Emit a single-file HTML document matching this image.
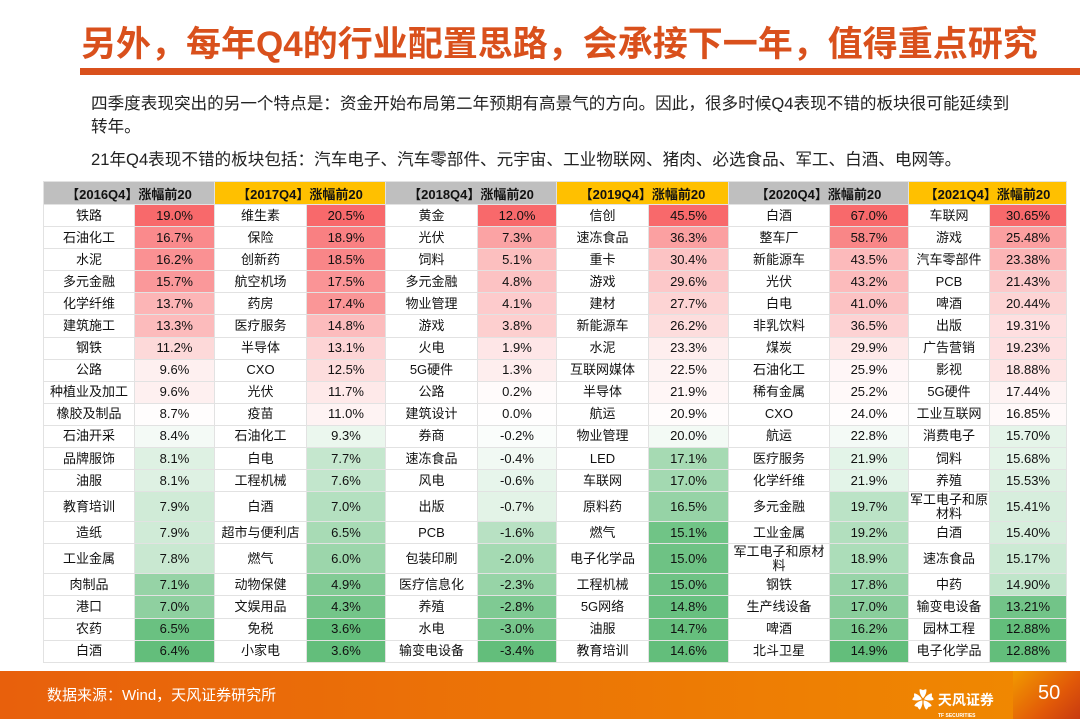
<!DOCTYPE html>
<html><head><meta charset="utf-8">
<style>
*{margin:0;padding:0;box-sizing:border-box}
body{width:1080px;height:719px;overflow:hidden;background:#fff;font-family:"Liberation Sans","Noto Sans CJK SC",sans-serif;position:relative}
.title{position:absolute;left:81px;top:26px;font-size:35px;line-height:38px;font-weight:bold;color:#d9501c;white-space:nowrap}
.bar{position:absolute;left:80px;top:68px;width:1000px;height:7px;background:#d9501c}
.p{position:absolute;left:91px;font-size:16.6px;color:#222;white-space:nowrap}
table{position:absolute;left:43px;top:181px;border-collapse:collapse;table-layout:fixed;font-size:13px;color:#111}
td{border:1px solid #e2e2e2;text-align:center;height:22.1px;line-height:14px;padding:0;overflow:hidden}
th{height:23px;font-size:13px;font-weight:bold;border:1px solid #e2e2e2;white-space:nowrap}
th.g{background:#bfbfbf}th.y{background:#ffc000}
tr.t td{height:30px}
.foot{position:absolute;left:0;top:671px;width:1080px;height:48px;background:linear-gradient(90deg,#e8600c,#f08a00)}
.src{position:absolute;left:47px;top:684px;color:#fff;font-size:15px}
.num{position:absolute;left:1013px;top:671px;width:67px;height:48px;background:linear-gradient(135deg,#f29a00,#e25a08 60%,#c83a10)}
.num span{position:absolute;left:25px;top:11px;color:#fff;font-size:20px}
.logo{position:absolute;left:912px;top:683px;color:#fff;font-size:14px;font-weight:bold}
.logo small{display:block;font-size:5px;margin-left:26px;margin-top:-2px}
</style></head><body>
<div class="title">另外，每年Q4的行业配置思路，会承接下一年，值得重点研究</div>
<div class="bar"></div>
<div class="p" style="top:90px">四季度表现突出的另一个特点是：资金开始布局第二年预期有高景气的方向。因此，很多时候Q4表现不错的板块很可能延续到</div>
<div class="p" style="top:113px">转年。</div>
<div class="p" style="top:146px">21年Q4表现不错的板块包括：汽车电子、汽车零部件、元宇宙、工业物联网、猪肉、必选食品、军工、白酒、电网等。</div>
<table id="t">
<colgroup><col style="width:91px"><col style="width:80px"><col style="width:92px"><col style="width:79px"><col style="width:92px"><col style="width:79px"><col style="width:92px"><col style="width:80px"><col style="width:101px"><col style="width:79px"><col style="width:81px"><col style="width:77px"></colgroup>
<tr><th colspan="2" class="g">【2016Q4】涨幅前20</th><th colspan="2" class="y">【2017Q4】涨幅前20</th><th colspan="2" class="g">【2018Q4】涨幅前20</th><th colspan="2" class="y">【2019Q4】涨幅前20</th><th colspan="2" class="g">【2020Q4】涨幅前20</th><th colspan="2" class="y">【2021Q4】涨幅前20</th></tr>
<tr><td>铁路</td><td>19.0%</td><td>维生素</td><td>20.5%</td><td>黄金</td><td>12.0%</td><td>信创</td><td>45.5%</td><td>白酒</td><td>67.0%</td><td>车联网</td><td>30.65%</td></tr>
<tr><td>石油化工</td><td>16.7%</td><td>保险</td><td>18.9%</td><td>光伏</td><td>7.3%</td><td>速冻食品</td><td>36.3%</td><td>整车厂</td><td>58.7%</td><td>游戏</td><td>25.48%</td></tr>
<tr><td>水泥</td><td>16.2%</td><td>创新药</td><td>18.5%</td><td>饲料</td><td>5.1%</td><td>重卡</td><td>30.4%</td><td>新能源车</td><td>43.5%</td><td>汽车零部件</td><td>23.38%</td></tr>
<tr><td>多元金融</td><td>15.7%</td><td>航空机场</td><td>17.5%</td><td>多元金融</td><td>4.8%</td><td>游戏</td><td>29.6%</td><td>光伏</td><td>43.2%</td><td>PCB</td><td>21.43%</td></tr>
<tr><td>化学纤维</td><td>13.7%</td><td>药房</td><td>17.4%</td><td>物业管理</td><td>4.1%</td><td>建材</td><td>27.7%</td><td>白电</td><td>41.0%</td><td>啤酒</td><td>20.44%</td></tr>
<tr><td>建筑施工</td><td>13.3%</td><td>医疗服务</td><td>14.8%</td><td>游戏</td><td>3.8%</td><td>新能源车</td><td>26.2%</td><td>非乳饮料</td><td>36.5%</td><td>出版</td><td>19.31%</td></tr>
<tr><td>钢铁</td><td>11.2%</td><td>半导体</td><td>13.1%</td><td>火电</td><td>1.9%</td><td>水泥</td><td>23.3%</td><td>煤炭</td><td>29.9%</td><td>广告营销</td><td>19.23%</td></tr>
<tr><td>公路</td><td>9.6%</td><td>CXO</td><td>12.5%</td><td>5G硬件</td><td>1.3%</td><td>互联网媒体</td><td>22.5%</td><td>石油化工</td><td>25.9%</td><td>影视</td><td>18.88%</td></tr>
<tr><td>种植业及加工</td><td>9.6%</td><td>光伏</td><td>11.7%</td><td>公路</td><td>0.2%</td><td>半导体</td><td>21.9%</td><td>稀有金属</td><td>25.2%</td><td>5G硬件</td><td>17.44%</td></tr>
<tr><td>橡胶及制品</td><td>8.7%</td><td>疫苗</td><td>11.0%</td><td>建筑设计</td><td>0.0%</td><td>航运</td><td>20.9%</td><td>CXO</td><td>24.0%</td><td>工业互联网</td><td>16.85%</td></tr>
<tr><td>石油开采</td><td>8.4%</td><td>石油化工</td><td>9.3%</td><td>券商</td><td>-0.2%</td><td>物业管理</td><td>20.0%</td><td>航运</td><td>22.8%</td><td>消费电子</td><td>15.70%</td></tr>
<tr><td>品牌服饰</td><td>8.1%</td><td>白电</td><td>7.7%</td><td>速冻食品</td><td>-0.4%</td><td>LED</td><td>17.1%</td><td>医疗服务</td><td>21.9%</td><td>饲料</td><td>15.68%</td></tr>
<tr><td>油服</td><td>8.1%</td><td>工程机械</td><td>7.6%</td><td>风电</td><td>-0.6%</td><td>车联网</td><td>17.0%</td><td>化学纤维</td><td>21.9%</td><td>养殖</td><td>15.53%</td></tr>
<tr class="t"><td>教育培训</td><td>7.9%</td><td>白酒</td><td>7.0%</td><td>出版</td><td>-0.7%</td><td>原料药</td><td>16.5%</td><td>多元金融</td><td>19.7%</td><td>军工电子和原材料</td><td>15.41%</td></tr>
<tr><td>造纸</td><td>7.9%</td><td>超市与便利店</td><td>6.5%</td><td>PCB</td><td>-1.6%</td><td>燃气</td><td>15.1%</td><td>工业金属</td><td>19.2%</td><td>白酒</td><td>15.40%</td></tr>
<tr class="t"><td>工业金属</td><td>7.8%</td><td>燃气</td><td>6.0%</td><td>包装印刷</td><td>-2.0%</td><td>电子化学品</td><td>15.0%</td><td>军工电子和原材料</td><td>18.9%</td><td>速冻食品</td><td>15.17%</td></tr>
<tr><td>肉制品</td><td>7.1%</td><td>动物保健</td><td>4.9%</td><td>医疗信息化</td><td>-2.3%</td><td>工程机械</td><td>15.0%</td><td>钢铁</td><td>17.8%</td><td>中药</td><td>14.90%</td></tr>
<tr><td>港口</td><td>7.0%</td><td>文娱用品</td><td>4.3%</td><td>养殖</td><td>-2.8%</td><td>5G网络</td><td>14.8%</td><td>生产线设备</td><td>17.0%</td><td>输变电设备</td><td>13.21%</td></tr>
<tr><td>农药</td><td>6.5%</td><td>免税</td><td>3.6%</td><td>水电</td><td>-3.0%</td><td>油服</td><td>14.7%</td><td>啤酒</td><td>16.2%</td><td>园林工程</td><td>12.88%</td></tr>
<tr><td>白酒</td><td>6.4%</td><td>小家电</td><td>3.6%</td><td>输变电设备</td><td>-3.4%</td><td>教育培训</td><td>14.6%</td><td>北斗卫星</td><td>14.9%</td><td>电子化学品</td><td>12.88%</td></tr>
</table>
<div class="foot"></div>
<div class="src">数据来源：Wind，天风证券研究所</div>
<div class="logo"><span style="font-size:22px;vertical-align:-3px">✿</span> 天风证券<small>TF SECURITIES</small></div>
<div class="num"><span>50</span></div>
<script>
var rows=document.getElementById('t').rows;
for(var c=1;c<12;c+=2){
 var v=[];for(var r=1;r<rows.length;r++)v.push(parseFloat(rows[r].cells[c].textContent));
 var s=v.slice().sort(function(a,b){return a-b});var mn=s[0],mx=s[s.length-1],md=(s[9]+s[10])/2;
 for(var r=1;r<rows.length;r++){var x=v[r-1],col;
  if(x>=md){var t=(x-md)/(mx-md||1);col=[255+(248-255)*t,255+(105-255)*t,255+(107-255)*t];}
  else{var t=(md-x)/(md-mn||1);col=[255+(99-255)*t,255+(190-255)*t,255+(123-255)*t];}
  rows[r].cells[c].style.background='rgb('+col.map(Math.round).join(',')+')';}
}
</script>
</body></html>
